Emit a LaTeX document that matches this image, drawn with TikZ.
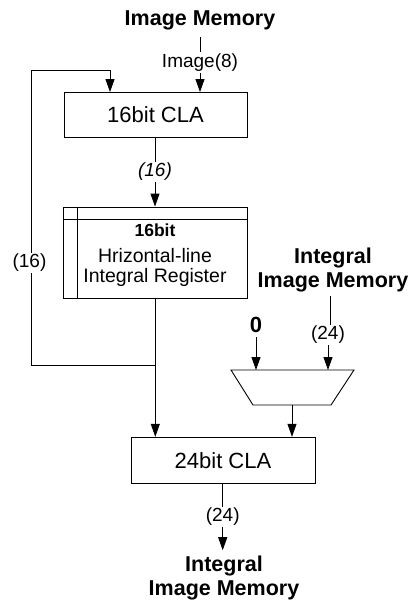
\documentclass[tikz,border=0pt]{standalone}
\usepackage{fontspec}
\setmainfont{Liberation Sans}
\usetikzlibrary{arrows.meta}
\begin{document}
\begin{tikzpicture}[x=1pt,y=-1pt,line width=0.9pt,
  >={Triangle[width=9pt,length=13pt]},
  ttl/.style={inner sep=0pt,align=center,font=\fontsize{21.5}{24.5}\selectfont\bfseries},
  lab/.style={inner sep=1pt,font=\fontsize{19}{22}\selectfont},
  rtx/.style={inner sep=0pt,font=\fontsize{19.5}{22}\selectfont},
  blk/.style={draw,rectangle,inner sep=0pt,font=\fontsize{22}{26}\selectfont}]
\useasboundingbox (0,0) rectangle (416,603);

% top input
\node[ttl] (im) at (200,20) {Image Memory};
\node[lab] (i8) at (200,63) {Image(8)};
\node[blk,minimum width=183pt,minimum height=45pt] (cla16) at (155.5,115) {16bit CLA};
\draw[shorten <=7pt,shorten >=1pt] (im.south) -- (i8.north);
\draw[->] (i8.south) -- (i8.south |- cla16.north);

% 16 bit output
\node[lab,font=\fontsize{19}{22}\selectfont\itshape] (l16) at (155,172) {(16)};
\draw (cla16.south -| l16) -- (l16.north);
\node[draw,rectangle,minimum width=183.5pt,minimum height=91pt,inner sep=0pt] (reg) at (155.3,252.5) {};
\draw[->] (l16.south) -- (l16.south |- reg.north);
\draw ([xshift=14pt]reg.north west) -- ([xshift=14pt]reg.south west);
\draw ([yshift=-13pt]reg.north west) -- ([yshift=-13pt]reg.north east);
\node[rtx,font=\fontsize{17.5}{20}\selectfont\bfseries] (r1) at (155,230) {16bit};
\node[rtx] (r2) at (155,256) {Hrizontal-line};
\node[rtx] (r3) at (155,277.5) {Integral Register};

% 24 bit CLA
\node[blk,minimum width=184pt,minimum height=46pt] (cla24) at (223,460.3) {24bit CLA};
\draw[->] (reg.south) -- (reg.south |- cla24.north);

% feedback
\coordinate (j) at (155.3,365);
\node[lab] (lfb) at (29.5,263) {(16)};
\coordinate (fbb) at (31,365);
\coordinate (fbt) at (31,70);
\coordinate (fbr) at (110,70);
\draw (j) -- (fbb) -- (fbb |- lfb.south);
\draw[->] (fbt |- lfb.north) -- (fbt) -- (fbr) -- (fbr |- cla16.north);

% mux
\coordinate (mtl) at (231,370);
\coordinate (mtr) at (354,370);
\coordinate (mbr) at (331,405);
\coordinate (mbl) at (253,405);
\draw (mtl) -- (mtr) -- (mbr) -- (mbl) -- cycle;
\coordinate (mout) at (292,405);
\draw[->] (mout) -- (mout |- cla24.north);

\node[inner sep=0pt,font=\fontsize{22}{26}\selectfont\bfseries] (zero) at (256,325) {0};
\draw[->] (zero.south) ++(0,4) -- (zero.south |- mtl);

\node[ttl] (iim1) at (333,270) {Integral\\Image Memory};
\node[lab] (l24a) at (328,335) {(24)};
\draw[shorten <=3pt] (iim1.south -| 330,0) -- (l24a.north -| 330,0);
\draw[->] (l24a.south) -- (l24a.south |- mtl);

% output
\node[lab] (l24b) at (222.7,517) {(24)};
\draw (cla24.south -| l24b) -- (l24b.north);
\node[ttl] (iim2) at (224,578) {Integral\\Image Memory};
\draw[->,shorten >=5pt] (l24b.south) -- (iim2.north -| l24b);
\end{tikzpicture}
\end{document}
